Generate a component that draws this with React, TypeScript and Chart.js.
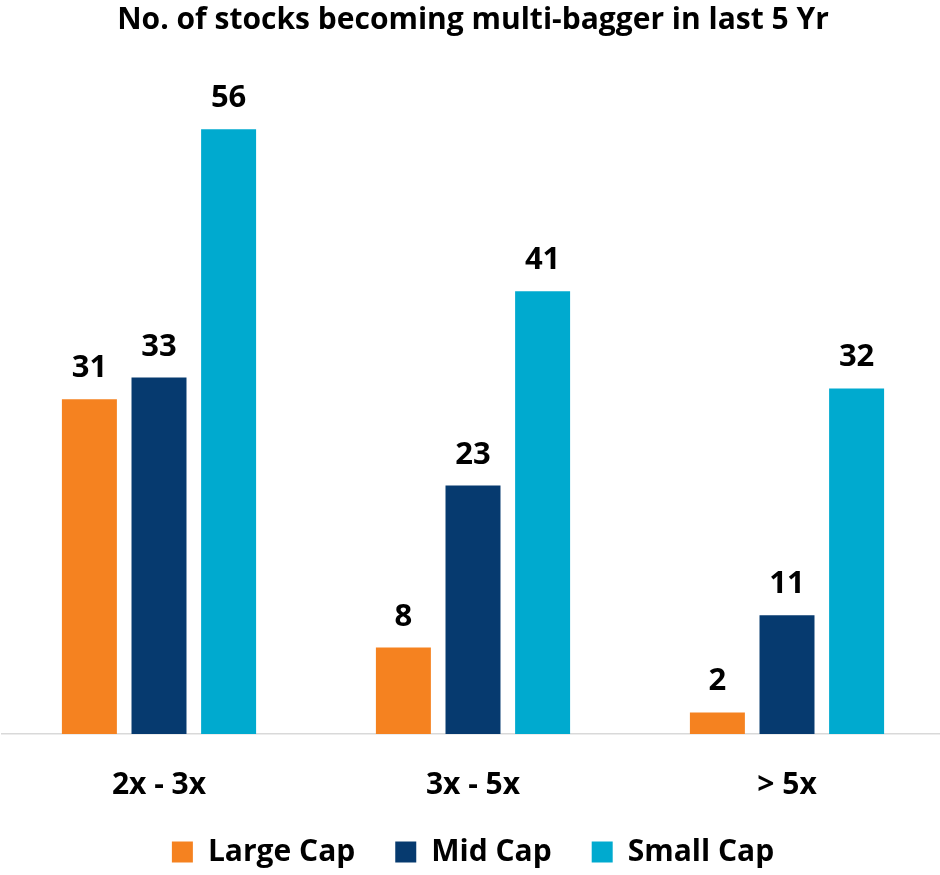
import React, { useEffect, useRef } from "react";
import { Chart, registerables } from "chart.js";

Chart.register(...registerables);

const titleText = "No. of stocks becoming multi-bagger in last 5 Yr";
const categories = ["2x - 3x", "3x - 5x", "> 5x"];
const largeCap = [31, 8, 2];
const midCap = [33, 23, 11];
const smallCap = [56, 41, 32];
const seriesNames = ["Large Cap", "Mid Cap", "Small Cap"];
const seriesColors = ["#F58220", "#063A6F", "#00AACF"];

const FONT = "'Open Sans', sans-serif";

const valueLabels = {
  id: "valueLabels",
  afterDatasetsDraw(chart: any) {
    const ctx = chart.ctx;
    ctx.save();
    ctx.font = `bold 31px ${FONT}`;
    ctx.fillStyle = "#000";
    ctx.textAlign = "center";
    ctx.textBaseline = "alphabetic";
    chart.data.datasets.forEach((ds: any, i: number) => {
      const meta = chart.getDatasetMeta(i);
      meta.data.forEach((el: any, j: number) => {
        ctx.fillText(String(ds.data[j]), el.x, el.y - 22);
      });
    });
    ctx.restore();
  },
};

export default function App() {
  const ref = useRef<HTMLCanvasElement>(null);
  useEffect(() => {
    if (!ref.current) return;
    const data = [largeCap, midCap, smallCap];
    const chart = new Chart(ref.current, {
      type: "bar",
      data: {
        labels: categories,
        datasets: seriesNames.map((name, i) => ({
          label: name,
          data: data[i],
          backgroundColor: seriesColors[i],
          borderWidth: 0,
          categoryPercentage: 0.665,
          barPercentage: 0.79,
        })),
      },
      options: {
        responsive: false,
        animation: false,
        layout: { padding: { left: 2, right: 0, top: 0, bottom: 0 } },
        plugins: {
          title: {
            display: true,
            text: titleText,
            color: "#000",
            font: { family: FONT, size: 30, weight: "bold" },
            padding: { top: 2, bottom: 48 },
          },
          legend: {
            position: "bottom",
            labels: {
              color: "#000",
              font: { family: FONT, size: 30, weight: "bold" },
              boxWidth: 21,
              boxHeight: 21,
              padding: 40,
            },
          },
          tooltip: { enabled: false },
        },
        scales: {
          x: {
            grid: { display: false },
            border: { display: true, color: "#D9D9D9", width: 1.5 },
            ticks: {
              color: "#000",
              font: { family: FONT, size: 30, weight: "bold" },
              mirror: true,
              padding: -69,
            },
            afterFit: (scale: any) => {
              scale.height = 63;
            },
          },
          y: {
            display: false,
            min: 0,
            max: 60,
          },
        },
      },
      plugins: [valueLabels],
    });
    return () => chart.destroy();
  }, []);
  return (
    <div style={{ position: "fixed", left: 0, top: 0, width: 944, height: 877, background: "#fff" }}>
      <canvas ref={ref} width={944} height={877} />
    </div>
  );
}
